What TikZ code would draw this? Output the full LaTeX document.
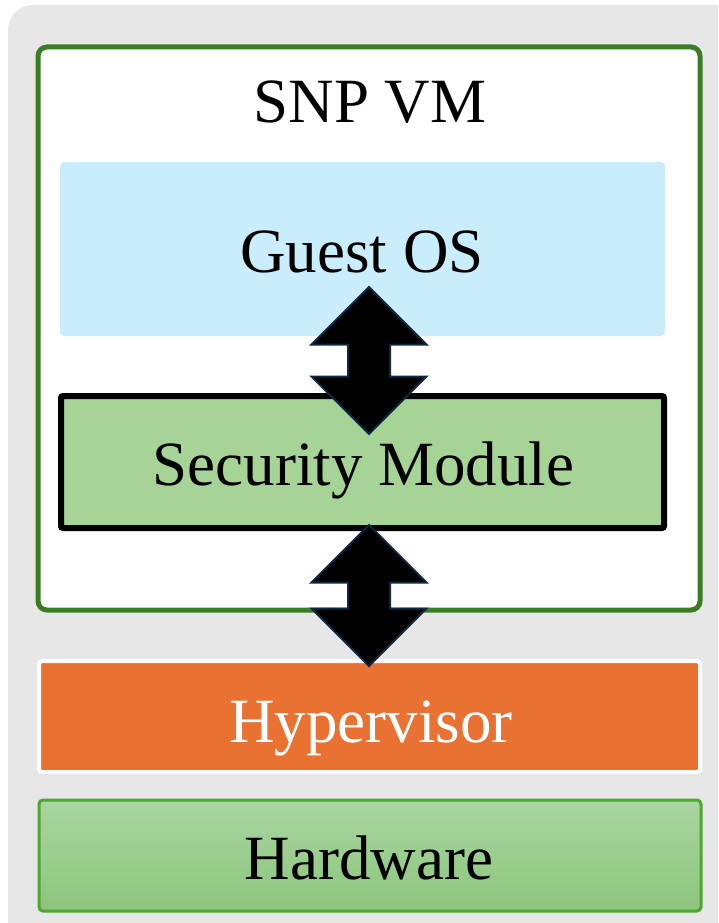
\documentclass[tikz,border=0pt]{standalone}
\usepackage{fontspec}
\setmainfont{Liberation Serif}

\definecolor{bggray}{HTML}{E7E7E7}
\definecolor{vmgreen}{HTML}{3B7D23}
\definecolor{guestblue}{HTML}{CAEDFB}
\definecolor{modgreen}{HTML}{A6D396}
\definecolor{hvorange}{HTML}{E97132}
\definecolor{hwtop}{HTML}{A9D6A0}
\definecolor{hwbot}{HTML}{8CC57D}
\definecolor{hwline}{HTML}{4EA72E}
\definecolor{arrline}{HTML}{0E2841}

\begin{document}
\begin{tikzpicture}[x=1pt,y=-1pt,
    every node/.style={inner sep=0pt},
    layer/.style={rectangle, minimum width=#1},
    label text/.style={font=\fontsize{63}{70}\selectfont, anchor=base},
    blockarrow/.style={fill=black, draw=arrline, line width=2pt, line join=miter}]
      \useasboundingbox (0,0) rectangle (718,923);
      % grey backdrop, cut by the page on the right and bottom
      \begin{scope}
        \clip (0,0) rectangle (718,923);
        \fill [bggray, rounded corners=25pt] (8,5) rectangle (740,950);
      \end{scope}
      % the VM
      \node [layer=662pt, minimum height=563pt, draw=vmgreen, line width=5pt, fill=white, rounded corners=9pt] (vm) at (369,328.5) {};
      \node [label text] (vmname) at (370,123) {SNP VM};
      \node [layer=605pt, minimum height=174pt, fill=guestblue, rounded corners=4pt] (guest) at (362.5,249) {};
      \node [label text] (guesttext) at (362,272) {Guest OS};
      \node [layer=603pt, minimum height=132pt, draw=black, line width=6pt, fill=modgreen, rounded corners=2pt] (secmod) at (362.5,462) {};
      \node [label text] (secmodtext) at (363.5,485) {Security Module};
      % below the VM
      \node [layer=661pt, minimum height=111pt, draw=white, line width=4pt, fill=hvorange, rounded corners=3pt] (hyper) at (369.5,716.5) {};
      \node [label text, white] (hypertext) at (371,742) {Hypervisor};
      \node [layer=662pt, minimum height=111pt, draw=hwline, line width=3pt, top color=hwtop, bottom color=hwbot, rounded corners=4pt] (hw) at (370,855.5) {};
      \node [label text] (hwtext) at (369,879) {Hardware};
      % double arrows
      \coordinate (upper) at (369,287);
      \coordinate (lower) at (369,525);
      \draw [blockarrow] (upper) -- ++(57.5,57.5) -- ++(-36.5,0) -- ++(0,32) -- ++(36.5,0)
            -- ++(-57.5,57.5) -- ++(-57.5,-57.5) -- ++(36.5,0) -- ++(0,-32) -- ++(-36.5,0) -- cycle;
      \draw [blockarrow] (lower) -- ++(57.5,57.5) -- ++(-36.5,0) -- ++(0,26) -- ++(36.5,0)
            -- ++(-57.5,57.5) -- ++(-57.5,-57.5) -- ++(36.5,0) -- ++(0,-26) -- ++(-36.5,0) -- cycle;
\end{tikzpicture}
\end{document}
